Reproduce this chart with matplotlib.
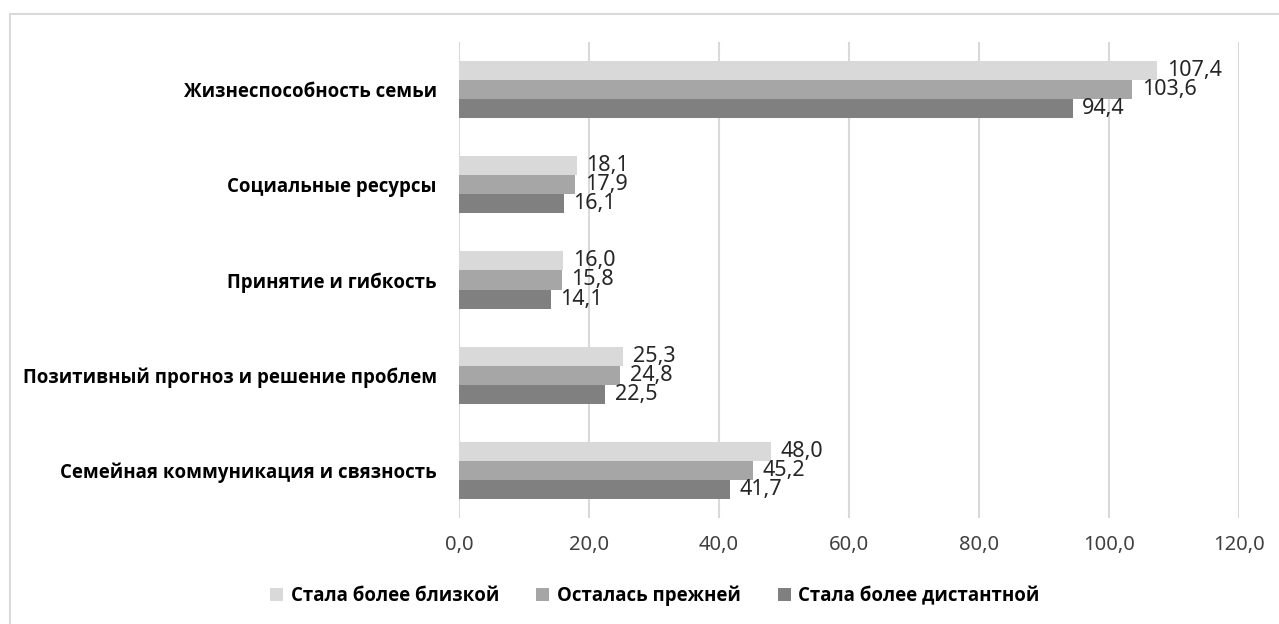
import matplotlib
matplotlib.use("Agg")
import matplotlib.pyplot as plt
import numpy as np
from matplotlib.ticker import FuncFormatter
from matplotlib.patches import Rectangle, Patch
from matplotlib import font_manager as fm

categories = ["Жизнеспособность семьи", "Социальные ресурсы", "Принятие и гибкость",
              "Позитивный прогноз и решение проблем", "Семейная коммуникация и связность"]
series_names = ["Стала более близкой", "Осталась прежней", "Стала более дистантной"]
closer = [107.4, 18.1, 16.0, 25.3, 48.0]
same = [103.6, 17.9, 15.8, 24.8, 45.2]
distant = [94.4, 16.1, 14.1, 22.5, 41.7]
xticks = [0, 20, 40, 60, 80, 100, 120]

# pick a family that really has a bold face installed
bold_fam = 'DejaVu Sans'
for fam in ['Open Sans', 'Noto Sans', 'Lato', 'Roboto', 'Liberation Sans']:
    if any(f.name == fam and (f.weight in ('bold', 'Bold') or (isinstance(f.weight, int) and f.weight >= 700))
           for f in fm.fontManager.ttflist):
        bold_fam = fam
        break

plt.rcParams['font.family'] = ['Noto Sans', 'DejaVu Sans']

colors = ["#d9d9d9", "#a6a6a6", "#808080"]
W, H = 1279, 624
fig = plt.figure(figsize=(W/100, H/100), dpi=100)
fig.patches.append(Rectangle((10/W, -0.1), 1.2, (H-14)/H + 0.1, transform=fig.transFigure,
                             fill=False, edgecolor="#d9d9d9", linewidth=1.5))
ax = fig.add_axes([459/W, (H-518)/H, (1239-459)/W, (518-42)/H])

y = np.arange(len(categories))
h = 0.2
for i, (vals, c) in enumerate(zip([closer, same, distant], colors)):
    bars = ax.barh(y + (i-1)*h, vals, height=h, color=c, zorder=3, label=series_names[i])
    for b, v in zip(bars, vals):
        ax.annotate(f"{v:.1f}".replace(".", ","), (v, b.get_y() + b.get_height()/2),
                    xytext=(7, 0), textcoords="offset points", va="center", ha="left",
                    fontsize=15.5, color="#262626")

ax.set_ylim(len(categories)-0.5, -0.5)
ax.set_xlim(0, 120)
ax.set_xticks(xticks)
ax.xaxis.set_major_formatter(FuncFormatter(lambda v, p: f"{v:.1f}".replace(".", ",")))
ax.set_yticks(y)
ax.set_yticklabels(categories, fontweight="bold", fontsize=13.4, color="black",
                   fontfamily=[bold_fam, 'DejaVu Sans'])
ax.tick_params(axis='both', length=0)
ax.tick_params(axis='x', labelsize=14.5, labelcolor="#404040", pad=12)
ax.tick_params(axis='y', pad=16)
ax.grid(axis='x', color="#d9d9d9", linewidth=1.5, zorder=0)
for s in ax.spines.values():
    s.set_visible(False)

handles = [Patch(facecolor=c, edgecolor='none') for c in colors]
fig.legend(handles, series_names, loc="center", bbox_to_anchor=(655/W, (H-596)/H), ncol=3,
           frameon=False, prop={'weight': 'bold', 'size': 13.4, 'family': [bold_fam, 'DejaVu Sans']},
           handlelength=0.7, handleheight=0.7, handletextpad=0.4, columnspacing=2.0)

fig.savefig("out.png", dpi=100)
